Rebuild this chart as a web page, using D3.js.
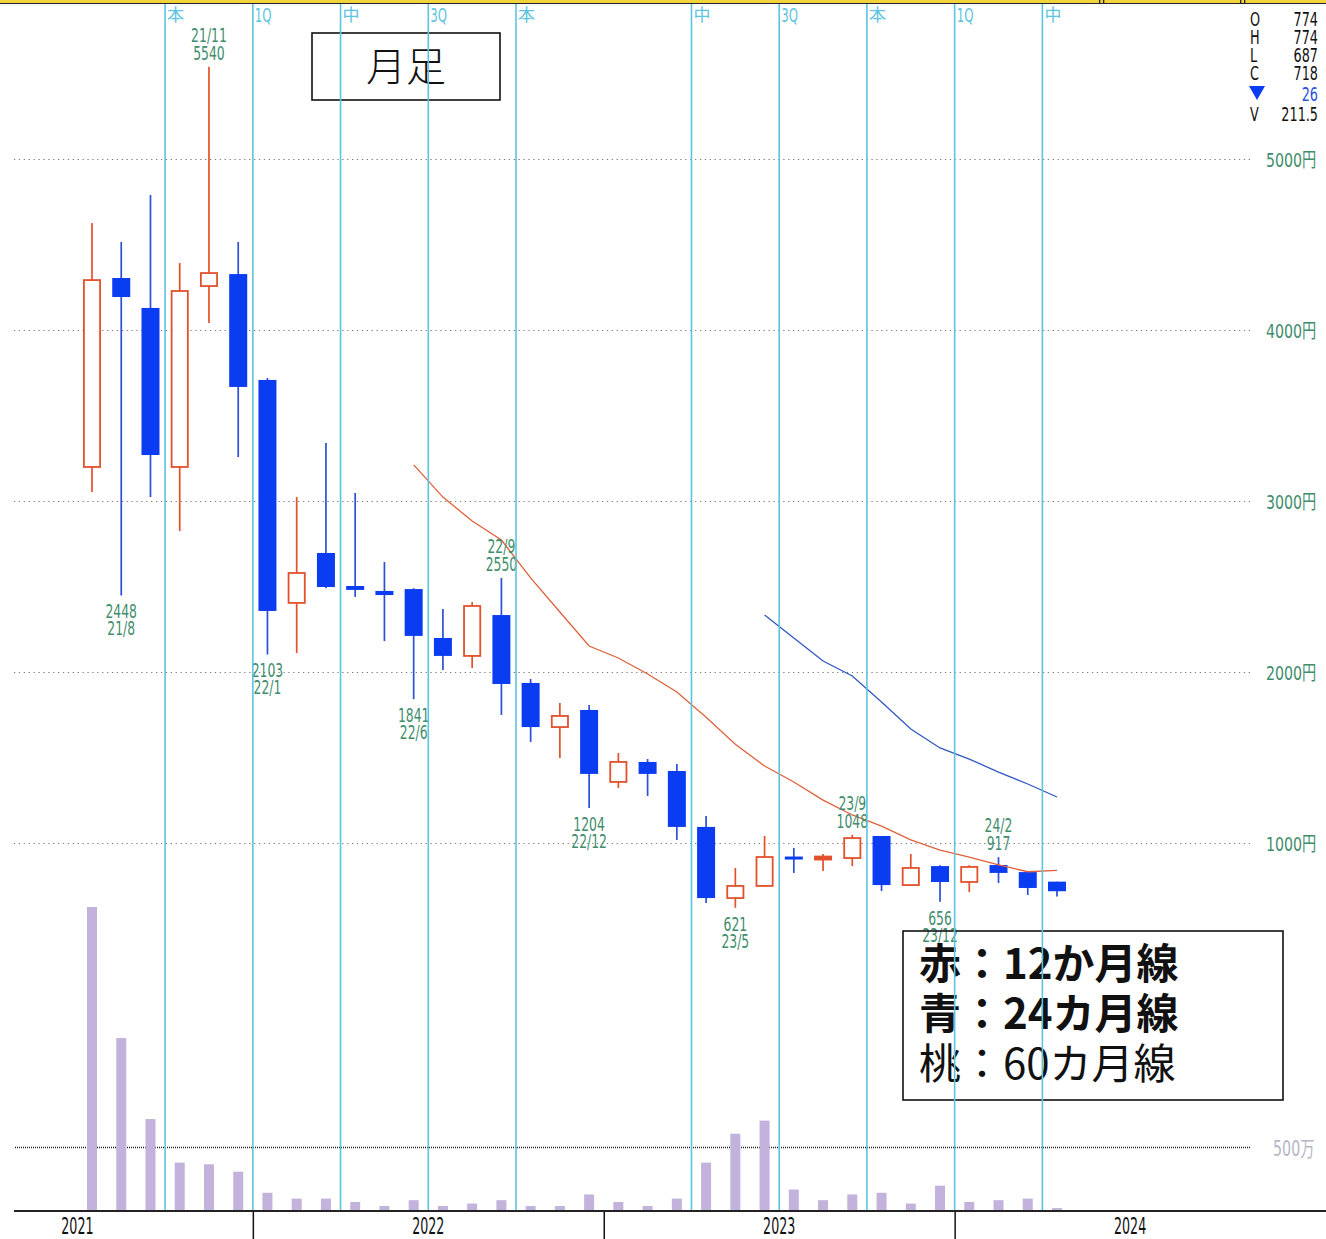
<!DOCTYPE html>
<html lang="ja">
<head>
<meta charset="utf-8" />
<title>月足</title>
<script src="https://unpkg.com/d3@7.9.0/dist/d3.min.js"></script>
<style>
  html,body{margin:0;padding:0;background:#fff;}
  #svg{display:block;background:#fff;}
</style>
</head>
<body>
<svg id="svg" width="1326" height="1239"></svg>
<script>
// ----- データ（チャートから読み取り） -----
const months = ['21/7','21/8','21/9','21/10','21/11','21/12',
  '22/1','22/2','22/3','22/4','22/5','22/6','22/7','22/8','22/9','22/10','22/11','22/12',
  '23/1','23/2','23/3','23/4','23/5','23/6','23/7','23/8','23/9','23/10','23/11','23/12',
  '24/1','24/2','24/3','24/4'];
const open  = [3199,4304,4129,3199,4257,4327, 3708,2404,2696,2503,2474,2485,2199,2094,2333,1936,1678,1778,
  1357,1474,1421,1094,678,749,914,909,912,1041,754,865, 772,871,830,774];
const high  = [4626,4515,4789,4392,5540,4515, 3720,3023,3339,3047,2643,2490,2368,2409,2550,1959,1819,1807,
  1526,1491,1462,1158,854,1041,971,936,1048,1041,936,870, 870,917,836,774];
const low   = [3053,2448,3023,2825,4041,3257, 2103,2111,2490,2439,2181,1841,2012,2023,1749,1591,1497,1204,
  1322,1275,1018,649,621,745,825,836,865,719,750,656, 713,766,696,687];
const close = [4292,4193,3269,4228,4333,3667, 2357,2579,2497,2480,2450,2211,2094,2386,1930,1678,1743,1404,
  1474,1404,1094,678,749,918,910,915,1029,754,854,772, 860,825,737,718];
// 出来高（万株）
const volume = [2346,1338,715,380,367,310, 148,103,103,77,46,91,46,65,91,46,46,135,
  77,46,103,380,602,703,173,91,135,148,65,202, 77,91,103,30];
// 12か月線（22/6から）、24カ月線（23/6から）
const ma12Start = '22/6';
const ma12 = [3211,3023,2883,2772,2550,2351,2152,2082,1988,1883,1735,1578,1450,1357,1251,1164,1099,1018,959,918,872,832,840];
const ma24Start = '23/6';
const ma24 = [2333,2199,2064,1977,1825,1667,1556,1491,1415,1345,1269];

const priceTicks = [1000,2000,3000,4000,5000];
const volTicks = [500];
const years = [2021,2022,2023,2024];
// 決算マーク（その月の後ろに線）
const markMonths = ['21/9','21/12','22/3','22/6','22/9','23/3','23/6','23/9','23/12','24/3'];
const markLabels = ['本','1Q','中','3Q','本','中','3Q','本','1Q','中'];
// 高値・安値の注記
const noteMonths = ['21/11','21/8','22/1','22/6','22/9','22/12','23/5','23/9','23/12','24/2'];
const noteKinds  = ['H','L','L','L','H','L','L','H','L','H'];
// 右上の四本値
const panelKeys = ['O','H','L','C','▼','V'];
const panelVals = ['774','774','687','718','26','211.5'];
const legendLines = ['赤：12か月線','青：24カ月線','桃：60カ月線'];

// ----- 色 -----
const RED='#e2512c', BLUE='#0a3cf2', WICKB='#2b4fd6', CYAN='#5cc4e0', GREEN='#3f8d6d';
const DIGIT='DejaVu Sans, Noto Sans CJK JP, sans-serif';
const JP='Noto Sans CJK JP, sans-serif';

const svg = d3.select('#svg');
const x = d3.scaleLinear().domain([0, months.length-1]).range([92,1057]);
const step = x(1)-x(0);
const y = d3.scaleLinear().domain([1000,5000]).range([843,159]);
const yv = d3.scaleLinear().domain([0,500]).range([1212,1147]);
const idx = m => months.indexOf(m);

const bars = months.map((m,i)=>({m,i,o:open[i],h:high[i],l:low[i],c:close[i],v:volume[i]}));

// 細長い文字（複数行は tspan）
function narrow(g, tx, ty, lines, size, sx, color, anchor, gap){
  const t = g.append('text')
    .attr('transform',`translate(${tx},${ty}) scale(${sx},1)`)
    .attr('font-family',DIGIT).attr('font-size',size)
    .attr('fill',color).attr('text-anchor',anchor||'start');
  [].concat(lines).forEach((s,k)=>{
    t.append('tspan').attr('x',0).attr('dy',k?gap:0).text(s);
  });
  return t;
}

// ----- 価格グリッド＋目盛 -----
const yAxis = d3.axisRight(y).tickValues(priceTicks).tickSize(-(1250-12)).tickFormat(d=>d+'円');
svg.append('g').attr('transform','translate(1250,0)').call(yAxis)
  .call(g=>g.select('.domain').remove())
  .call(g=>g.selectAll('.tick line').attr('stroke','#7d7d7d').attr('stroke-width',1.2).attr('stroke-dasharray','1.3,3.6'))
  .call(g=>g.selectAll('.tick text').attr('x',null).attr('dy',null)
     .attr('transform','translate(16,7) scale(0.71,1)')
     .attr('font-family',DIGIT).attr('font-size',20).attr('fill',GREEN));

// ----- 出来高 -----
const vAxis = d3.axisRight(yv).tickValues(volTicks).tickSize(-(1250-14)).tickFormat(d=>d+'万');
svg.append('g').attr('transform','translate(1250,0)').call(vAxis)
  .call(g=>g.select('.domain').remove())
  .call(g=>g.selectAll('.tick line').attr('stroke','#222').attr('stroke-width',1.5).attr('stroke-dasharray','1,1'))
  .call(g=>g.selectAll('.tick text').attr('x',null).attr('dy',null)
     .attr('transform','translate(23,8) scale(0.68,1)')
     .attr('font-family',DIGIT).attr('font-size',21).attr('fill','#b7b5c6'));

svg.append('g').selectAll('rect').data(bars).join('rect')
  .attr('x',d=>x(d.i)-5).attr('width',10)
  .attr('y',d=>yv(d.v)).attr('height',d=>yv(0)-yv(d.v))
  .attr('fill','#c3b2dc');

// ----- ローソク足 -----
const up = d => d.c >= d.o;
const cg = svg.append('g');
cg.selectAll('line').data(bars).join('line')
  .attr('x1',d=>x(d.i)).attr('x2',d=>x(d.i))
  .attr('y1',d=>y(d.h)).attr('y2',d=>y(d.l))
  .attr('stroke',d=>up(d)?RED:WICKB).attr('stroke-width',1.7);
cg.selectAll('rect').data(bars).join('rect')
  .attr('x',d=>x(d.i)-9+(up(d)?0.9:0))
  .attr('width',d=>up(d)?16.2:18)
  .attr('y',d=>{const t=y(Math.max(d.o,d.c)),h=Math.abs(y(d.o)-y(d.c));return h<3?t-(3-h)/2:t;})
  .attr('height',d=>Math.max(3,Math.abs(y(d.o)-y(d.c))))
  .attr('fill',d=>up(d)?(Math.abs(y(d.o)-y(d.c))<4?RED:'#fff'):BLUE)
  .attr('stroke',d=>up(d)?RED:'none').attr('stroke-width',1.8);

// ----- 移動平均線 -----
const line = d3.line().x(d=>x(d[0])).y(d=>y(d[1]));
svg.append('path').datum(ma12.map((v,k)=>[idx(ma12Start)+k,v]))
  .attr('d',line).attr('fill','none').attr('stroke','#e0603c').attr('stroke-width',1.3);
svg.append('path').datum(ma24.map((v,k)=>[idx(ma24Start)+k,v]))
  .attr('d',line).attr('fill','none').attr('stroke','#3158c4').attr('stroke-width',1.3);

// ----- 高値・安値注記 -----
const ng = svg.append('g');
noteMonths.forEach((m,k)=>{
  const i=idx(m), cx=x(i);
  if(noteKinds[k]==='H'){
    narrow(ng,cx,y(high[i])-25,[m,String(high[i])],20,0.62,GREEN,'middle',18);
  } else {
    narrow(ng,cx,y(low[i])+23,[String(low[i]),m],20,0.62,GREEN,'middle',17);
  }
});

// ----- タイトルと凡例 -----
svg.append('rect').attr('x',312).attr('y',33).attr('width',188).attr('height',67)
  .attr('fill','none').attr('stroke','#111').attr('stroke-width',1.6);
svg.append('text').attr('x',406).attr('y',81).attr('text-anchor','middle')
  .attr('font-family',JP).attr('font-size',40).attr('font-weight',300).attr('fill','#111').text('月足');

svg.append('rect').attr('x',903).attr('y',931).attr('width',380).attr('height',169)
  .attr('fill','none').attr('stroke','#111').attr('stroke-width',1.6);
legendLines.forEach((t,k)=>{
  svg.append('text').attr('x',919).attr('y',979+k*50)
    .attr('font-family',JP).attr('font-size',42).attr('font-weight',k<2?700:400)
    .attr('fill','#111').text(t);
});

// ----- 決算の縦線 -----
const qg = svg.append('g');
markMonths.forEach((m,k)=>{
  const lx = x(idx(m)) + step/2;
  qg.append('line').attr('x1',lx).attr('x2',lx).attr('y1',4).attr('y2',1211)
    .attr('stroke',CYAN).attr('stroke-width',1.6);
  const lab = markLabels[k];
  if(/Q/.test(lab)) narrow(qg,lx+2,22,lab,19,0.62,CYAN);
  else qg.append('text').attr('x',lx+2).attr('y',21).attr('font-family',JP).attr('font-size',17)
        .attr('fill',CYAN).text(lab);
});

// ----- 年の軸 -----
const janIdx = yr => (yr-2021)*12 - 6;
const xAxis = d3.axisBottom(x).tickValues(years.slice(1).map(yr=>janIdx(yr)-0.5))
  .tickSize(28).tickSizeOuter(0).tickFormat('');
svg.append('g').attr('transform','translate(0,1211)').call(xAxis)
  .call(g=>g.select('.domain').remove())
  .call(g=>g.selectAll('.tick line').attr('stroke','#111').attr('stroke-width',1.5));
svg.append('line').attr('x1',14).attr('x2',1326).attr('y1',1211).attr('y2',1211)
  .attr('stroke','#222').attr('stroke-width',2.2);
years.forEach(yr=>{
  narrow(svg,x(janIdx(yr)+5.5),1234,String(yr),23,0.55,'#111','middle');
});

// ----- 上部の帯 -----
svg.append('rect').attr('x',0).attr('y',0).attr('width',1326).attr('height',3).attr('fill','#f3d33c');
svg.append('line').attr('x1',0).attr('x2',1326).attr('y1',3.5).attr('y2',3.5).attr('stroke','#222').attr('stroke-width',1.2);
[1099,1103,1240,1244].forEach(px=>svg.append('rect').attr('x',px).attr('y',0).attr('width',1.3).attr('height',4).attr('fill','#222'));

// ----- 四本値パネル -----
const rowY = [26,44,62,80,101,121];
panelKeys.forEach((k,r)=>{
  if(k==='▼'){
    svg.append('path').attr('d',`M1249,${rowY[r]-15}L1265,${rowY[r]-15}L1257,${rowY[r]-1}Z`).attr('fill',BLUE);
    narrow(svg,1318,rowY[r],panelVals[r],20,0.64,'#2a52d8','end');
  } else {
    narrow(svg,1250,rowY[r],k,20,0.64,'#111');
    narrow(svg,1318,rowY[r],panelVals[r],20,0.64,'#111','end');
  }
});
</script>
</body>
</html>
